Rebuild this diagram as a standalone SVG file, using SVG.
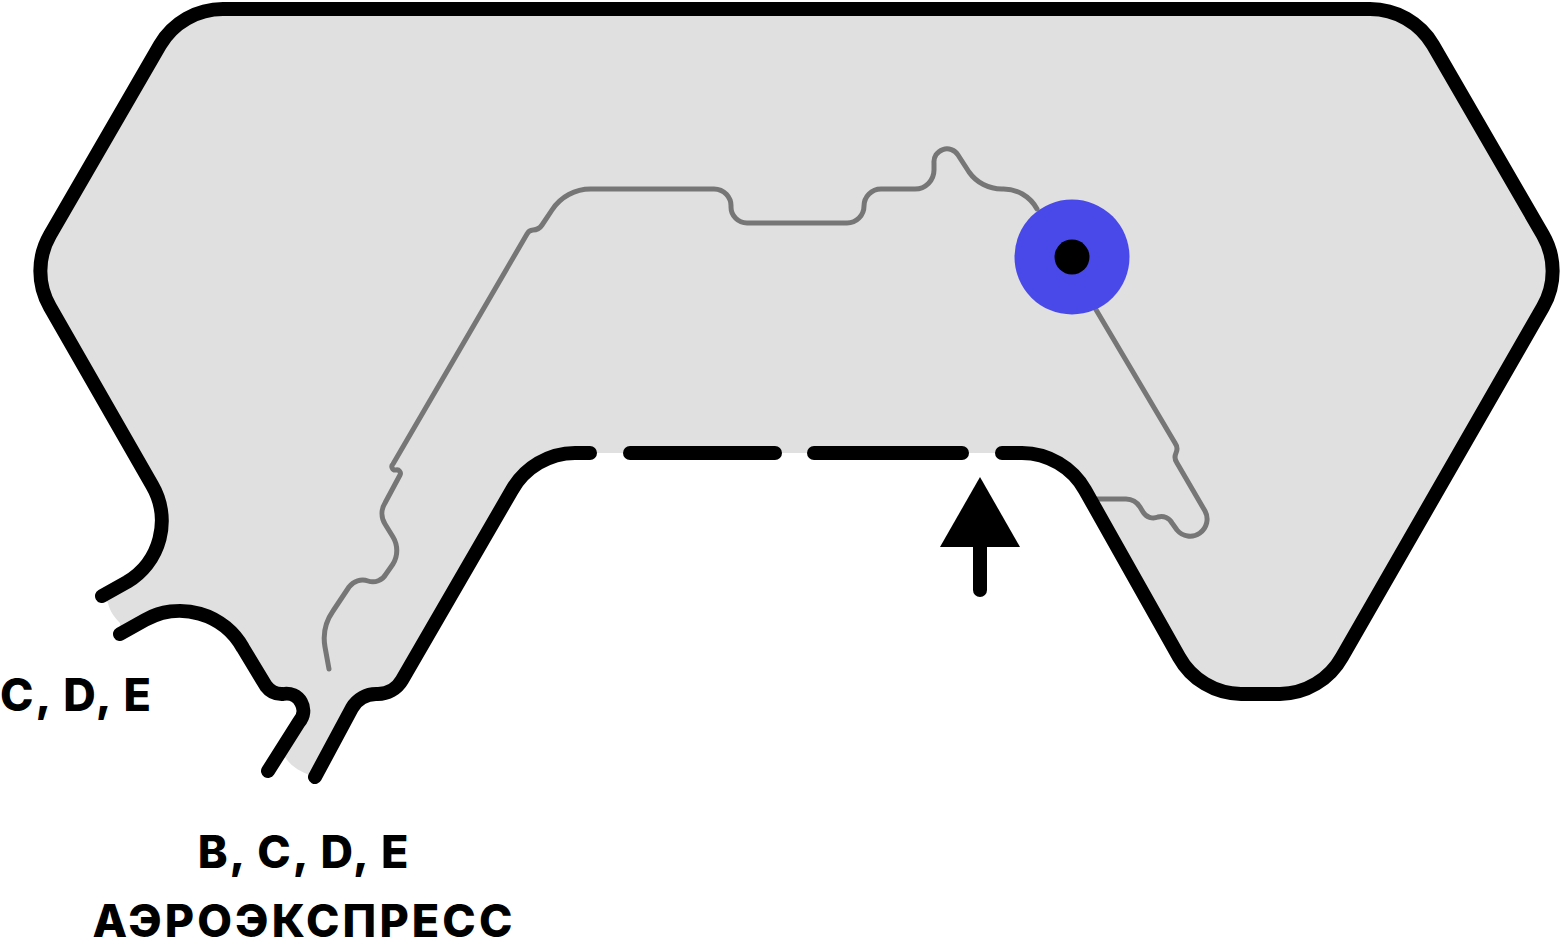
<svg xmlns="http://www.w3.org/2000/svg" width="1562" height="944" viewBox="0 0 1562 944">
<style>
.wall{fill:none;stroke:#000;stroke-width:14px;stroke-linecap:round;stroke-linejoin:round}
.route{fill:none;stroke:#767676;stroke-width:5px;stroke-linecap:round;stroke-linejoin:round}
.lbl{font-family:Inter,"Liberation Sans",sans-serif;font-weight:800;font-size:45px;fill:#000;letter-spacing:2px}
.wide{letter-spacing:3.100px}
</style>
<rect width="1562" height="944" fill="#fff"/>
<g id="hall">
<path fill="#e0e0e0" d="M223 9H1370A73 73 0 0 1 1433 45L1543 235A72 72 0 0 1 1543 307L1342 657A72 72 0 0 1 1280 694H1241A72 72 0 0 1 1179 657L1085 490A73 73 0 0 0 1022 453H575A73 73 0 0 0 512 490L402 680A28 28 0 0 1 377 694A28 28 0 0 0 352 708L315 777C303 773 292 768 285 757L268 771L299 722A17 17 0 0 0 283 694A20 20 0 0 1 266 686L243 648A72 72 0 0 0 145 620L120 634L120 623C115 618 110 612 108 603L102 596L127 582A71 71 0 0 0 152 485L50 307A72 72 0 0 1 50 235L160 45A73 73 0 0 1 223 9Z"/>
</g>
<g id="connectors">
<path class="route" d="M1095 308L1175 443A10 10 0 0 1 1176 453A10 10 0 0 0 1177 463L1205 511A17 17 0 0 1 1177 530L1172 523A12 12 0 0 0 1158 517A12 12 0 0 1 1143 512L1140 507A17 17 0 0 0 1126 499H1097"/>
<path class="route" d="M1037 209A38 38 0 0 0 1002 189A40 40 0 0 1 969 172L958 155A13 13 0 0 0 934 163V170A19 19 0 0 1 915 189H881A17 17 0 0 0 864 206A17 17 0 0 1 847 223H747A16 16 0 0 1 731 207A17 17 0 0 0 714 189H591A46 46 0 0 0 552 210L542 225A11 11 0 0 1 533 230A7 7 0 0 0 527 234L393 464A3.500 3.500 0 0 0 396 470A3.500 3.500 0 0 1 400 475L385 503A20 20 0 0 0 385 524L393 537A26 26 0 0 1 393 564L386 574A15 15 0 0 1 368 581A17 17 0 0 0 349 587L333 611A48 48 0 0 0 325 647L329 669"/>
</g>
<g id="walls">
<path class="wall" d="M102 596L127 582A71 71 0 0 0 152 485L50 307A72 72 0 0 1 50 235L160 45A73 73 0 0 1 223 9H1370A73 73 0 0 1 1433 45L1543 235A72 72 0 0 1 1543 307L1342 657A72 72 0 0 1 1280 694H1241A72 72 0 0 1 1179 657L1085 490A73 73 0 0 0 1022 453H1002"/>
<path class="wall" d="M962 453H814"/>
<path class="wall" d="M775 453H630"/>
<path class="wall" d="M590 453H575A73 73 0 0 0 512 490L402 680A28 28 0 0 1 377 694A28 28 0 0 0 352 708L315 777"/>
<path class="wall" d="M120 634L145 620A72 72 0 0 1 243 648L266 686A20 20 0 0 0 283 694A17 17 0 0 1 299 722L268 771"/>
</g>
<g id="stop">
<circle cx="1072" cy="257" r="57.500" fill="#4949e9"/>
<circle cx="1072" cy="257" r="17.500" fill="#000"/>
</g>
<g id="entrance">
<path d="M980 477L1020 547H940Z" fill="#000"/>
<path d="M980 545V590" fill="none" stroke="#000" stroke-width="14" stroke-linecap="round"/>
</g>
<g id="labels">
<text class="lbl" x="0" y="711">C, D, E</text>
<text class="lbl" x="304" y="868" text-anchor="middle">B, C, D, E</text>
<text class="lbl wide" x="304" y="937" text-anchor="middle">АЭРОЭКСПРЕСС</text>
</g>
</svg>
